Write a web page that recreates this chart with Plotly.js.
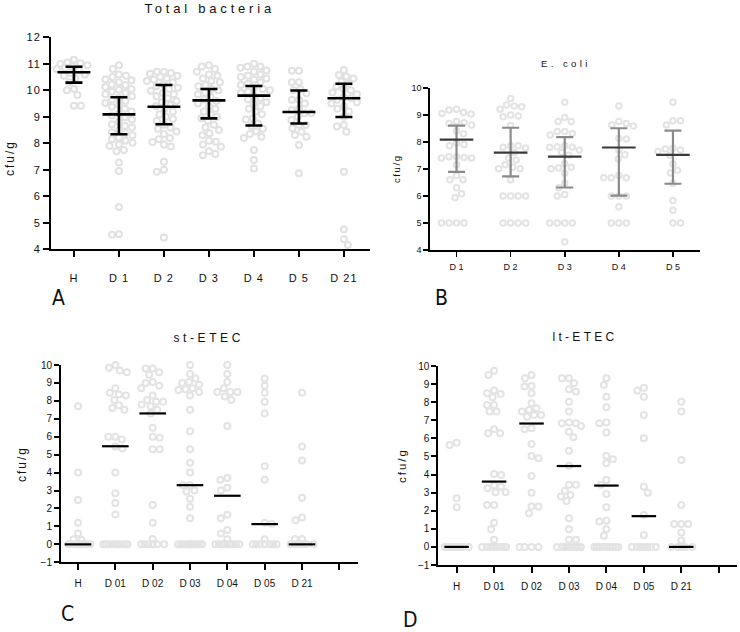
<!DOCTYPE html>
<html>
<head>
<meta charset="utf-8">
<script src="https://cdn.plot.ly/plotly-3.0.1.min.js"></script>
<style>html,body{margin:0;padding:0;background:#fff;}#chart{width:740px;height:632px;}</style>
</head>
<body>
<div id="chart"></div>
<script>
// ---------- Panel A: Total bacteria ----------
const catsA = ['H','D 1','D 2','D 3','D 4','D 5','D 21'];
const totH  = [11.15,11.05,11.02,11.0,10.95,10.9,10.85,10.8,10.75,10.65,10.6,10.55,10.45,10.3,10.05,10.0,9.82,9.42,9.42];
const totD1 = [10.95,10.8,10.6,10.55,10.5,10.42,10.38,10.3,10.22,10.2,10.12,10.05,10.02,9.95,9.9,9.85,9.78,9.72,9.65,9.6,9.52,9.45,9.38,9.3,9.2,9.12,9.05,8.98,8.9,8.8,8.72,8.65,8.6,8.5,8.42,8.38,8.3,8.22,8.15,8.1,8.02,7.95,7.9,7.75,7.7,7.28,6.95,5.6,4.55,4.57];
const totD2 = [10.7,10.7,10.65,10.62,10.55,10.5,10.45,10.4,10.35,10.3,10.22,10.15,10.1,10.05,9.98,9.9,9.85,9.78,9.7,9.6,9.55,9.45,9.4,9.3,9.2,9.1,9.0,8.92,8.85,8.7,8.6,8.55,8.45,8.35,8.2,8.15,8.05,7.95,7.88,7.3,7.0,6.93,4.45];
const totD3 = [10.95,10.9,10.8,10.7,10.6,10.55,10.45,10.35,10.3,10.2,10.15,10.05,10.0,9.92,9.85,9.75,9.65,9.6,9.5,9.4,9.3,9.2,9.1,9.0,8.95,8.85,8.7,8.6,8.5,8.38,8.3,8.1,8.06,7.95,7.87,7.7,7.6,7.55];
const totD4 = [11.0,10.9,10.9,10.85,10.75,10.7,10.6,10.55,10.5,10.45,10.4,10.3,10.25,10.2,10.1,10.05,10.0,9.95,9.9,9.8,9.7,9.65,9.55,9.5,9.4,9.3,9.2,9.1,8.95,8.9,8.75,8.65,8.55,8.45,8.35,8.25,8.2,7.75,7.37,7.05];
const totD5 = [10.74,10.74,10.3,10.3,10.04,10.0,9.89,9.64,9.64,9.5,9.3,9.26,9.13,9.13,9.0,8.88,8.69,8.69,8.57,8.44,8.31,8.25,7.94,6.87];
const totD21= [10.77,10.58,10.52,10.45,10.33,10.25,10.14,10.05,10.0,9.92,9.85,9.75,9.7,9.64,9.55,9.5,9.4,9.3,9.2,9.0,8.69,8.63,8.44,6.93,4.75,4.38,4.16];
const meanA = [10.68,9.09,9.38,9.62,9.80,9.18,9.70];
const sdHiA = [10.89,9.74,10.20,10.05,10.16,9.99,10.25];
const sdLoA = [10.29,8.34,8.72,8.94,8.67,8.75,8.99];

// ---------- Panel B: E. coli ----------
const catsB = ['D 1','D 2','D 3','D 4','D 5'];
const ecD1 = [9.2,9.18,9.08,9.05,9.03,8.75,8.7,8.68,8.62,8.4,8.3,7.95,7.9,7.85,7.45,7.45,7.42,7.4,7.4,7.15,6.75,6.6,6.6,6.3,6.08,5.93,5.0,5.0,5.0,5.0];
const ecD2 = [9.6,9.36,9.32,9.3,9.2,8.99,8.95,8.93,8.6,7.85,7.85,7.8,7.77,7.6,7.4,7.33,7.15,7.06,7.0,7.0,6.6,6.0,6.0,6.0,6.0,5.0,5.0,5.0,5.0];
const ecD3 = [9.46,8.9,8.75,8.75,8.38,8.38,8.31,8.25,7.85,7.82,7.8,7.8,7.7,7.6,7.5,7.2,7.06,7.03,7.0,6.84,6.47,6.3,6.05,6.0,5.0,5.0,5.0,5.0,4.3];
const ecD4 = [9.32,8.75,8.68,8.62,8.58,8.13,8.1,7.7,7.52,7.36,6.75,6.67,6.67,6.67,6.0,6.0,6.0,5.6,5.0,5.0,5.0];
const ecD5 = [9.46,8.78,8.78,8.62,7.76,7.73,7.7,7.64,7.5,7.18,6.95,6.85,6.47,5.83,5.47,5.0,5.0];
const meanB = [8.08,7.60,7.45,7.79,7.52];
const sdHiB = [8.60,8.52,8.17,8.50,8.41];
const sdLoB = [6.89,6.72,6.31,6.01,6.45];

// ---------- Panel C: st-ETEC ----------
const catsC = ['H','D 01','D 02','D 03','D 04','D 05','D 21',''];
const stH  = [7.7,4.0,2.47,1.2,0.6,0.28,0.25,0,0,0,0,0,0,0];
const stD1 = [10.0,9.85,9.7,9.6,8.7,8.45,8.35,8.3,8.05,7.75,7.6,7.5,6.0,6.0,5.85,5.45,5.35,4.0,2.85,2.3,1.67,0,0,0,0,0,0,0,0,0,0];
const stD2 = [9.8,9.8,9.6,9.45,9.05,9.0,8.85,8.7,8.3,8.05,7.95,7.95,7.8,7.7,7.5,7.3,6.5,6.0,5.95,5.3,5.3,2.2,1.2,0.3,0,0,0,0,0,0];
const stD3 = [10.0,9.5,9.25,9.05,9.0,8.9,8.7,8.65,8.6,8.5,8.3,7.5,6.3,5.3,4.55,4.0,3.3,3.3,3.0,2.95,2.55,2.1,1.45,0,0,0,0,0,0,0,0,0,0,0,0];
const stD4 = [10.0,9.5,9.05,8.7,8.5,8.5,8.5,8.25,8.05,6.6,3.7,3.6,3.15,3.0,1.65,1.45,0.8,0.6,0.28,0,0,0,0,0,0,0,0,0];
const stD5 = [9.25,8.85,8.45,7.95,7.3,4.35,3.6,1.2,1.15,0.28,0,0,0,0,0,0,0];
const stD21= [8.45,5.45,4.67,2.6,1.5,1.35,0.3,0.3,0,0,0,0,0,0];
const medC = [0,5.47,7.3,3.3,2.71,1.13,0];

// ---------- Panel D: lt-ETEC ----------
const ltH  = [5.76,5.64,2.69,2.19,0,0,0,0,0,0,0,0];
const ltD1 = [9.74,9.5,8.64,8.5,8.45,8.27,7.85,7.85,7.48,7.48,6.5,6.28,6.28,4.03,3.98,3.4,3.33,3.24,3.02,3.02,2.32,2.32,1.34,0.98,0.39,0,0,0,0,0,0,0,0];
const ltD2 = [9.5,9.32,8.9,8.86,8.49,7.94,7.66,7.57,7.48,7.29,7.29,7.2,6.56,6.5,5.69,5.03,4.9,3.92,3.0,2.23,2.23,1.86,0,0,0,0];
const ltD3 = [9.32,9.32,9.04,8.71,8.58,8.03,7.48,6.87,6.83,6.83,6.69,6.37,6.06,5.32,4.49,3.43,3.43,3.11,2.87,2.78,2.54,1.58,0.98,0.39,0.39,0,0,0,0,0,0,0,0];
const ltD4 = [9.32,8.95,8.3,7.72,6.87,6.83,6.32,5.03,4.84,4.62,3.7,3.43,2.93,2.19,1.45,1.4,0.98,0.61,0,0,0,0,0,0,0,0,0];
const ltD5 = [8.8,8.64,8.3,7.29,6.0,3.33,3.0,1.77,0.66,0,0,0,0,0,0,0];
const ltD21= [8.03,7.48,4.81,2.32,1.27,1.27,1.27,0.79,0.35,0,0,0,0,0];
const medD = [0,3.61,6.82,4.47,3.39,1.7,0];

// ---------- helpers ----------
const W = 740, H = 632;
function xd(a,b){return [a/W,b/W];}
function yd(top,bottom){return [1-bottom/H,1-top/H];}

// deterministic beeswarm layout (pixel space), returns offsets in category units
function swarm(vals, pxX, pxY, d, maxW){
  const idx = vals.map((v,i)=>i).sort((a,b)=>vals[b]-vals[a] || a-b);
  const placed = [];
  const off = new Array(vals.length).fill(0);
  idx.forEach((i,n)=>{
    const y = vals[i]*pxY;
    let best = 0, bestScore = -1, found = false;
    const sgn = (n%2===0)?1:-1;
    for(let k=0;k<=maxW*2 && !found;k++){
      const cands = k===0?[0]:[sgn*k*0.5,-sgn*k*0.5];
      for(const c of cands){
        let md = Infinity;
        for(const p of placed){
          const dd = Math.hypot(c-p[0], y-p[1]);
          if(dd<md) md=dd;
        }
        if(md>=d){best=c;found=true;break;}
        if(md>bestScore+1e-9){bestScore=md;best=c;}
      }
    }
    placed.push([best,y]);
    off[i]=best/pxX;
  });
  return off;
}
function pointsTrace(groups, pxX, pxY, d, maxW, xa, ya, color, size){
  const xs=[], ys=[];
  groups.forEach((g,gi)=>{
    const o = swarm(g,pxX,pxY,d,maxW);
    g.forEach((v,j)=>{xs.push(gi+o[j]); ys.push(v);});
  });
  return {type:'scatter',mode:'markers',x:xs,y:ys,xaxis:xa,yaxis:ya,hoverinfo:'skip',cliponaxis:false,
    marker:{symbol:'circle-open',size:size,color:color,line:{width:2,color:color}}};
}
const idxA = catsA.map((c,i)=>i), idxB = catsB.map((c,i)=>i), idxC = medC.map((c,i)=>i);

const traces = [
  pointsTrace([totH,totD1,totD2,totD3,totD4,totD5,totD21],45.0,26.5,7,17,'x','y','#e1e1e1',6),
  {type:'scatter',mode:'markers',x:idxA,y:meanA,xaxis:'x',yaxis:'y',hoverinfo:'skip',cliponaxis:false,
   marker:{symbol:'line-ew',size:23.5,line:{width:2.6,color:'#000'}},
   error_y:{type:'data',symmetric:false,array:sdHiA.map((v,i)=>v-meanA[i]),arrayminus:meanA.map((v,i)=>v-sdLoA[i]),color:'#000',thickness:2.6,width:8.5}},
  pointsTrace([ecD1,ecD2,ecD3,ecD4,ecD5],54,27.05,7.5,16,'x2','y2','#e3e3e3',5.5),
  {type:'scatter',mode:'markers',x:idxB,y:meanB,xaxis:'x2',yaxis:'y2',hoverinfo:'skip',cliponaxis:false,
   marker:{symbol:'line-ew',size:24,line:{width:2.2,color:'#3a3a3a'}},
   error_y:{type:'data',symmetric:false,array:sdHiB.map((v,i)=>v-meanB[i]),arrayminus:meanB.map((v,i)=>v-sdLoB[i]),color:'#8a8a8a',thickness:2.2,width:8.5}},
  pointsTrace([stH,stD1,stD2,stD3,stD4,stD5,stD21],37.3,17.94,7,12,'x3','y3','#e3e3e3',6),
  {type:'scatter',mode:'markers',x:idxC,y:medC,xaxis:'x3',yaxis:'y3',hoverinfo:'skip',cliponaxis:false,
   marker:{symbol:'line-ew',size:19,line:{width:2.2,color:'#000'}}},
  pointsTrace([ltH,ltD1,ltD2,ltD3,ltD4,ltD5,ltD21],37.4,18.09,7,12,'x4','y4','#e3e3e3',6),
  {type:'scatter',mode:'markers',x:idxC,y:medD,xaxis:'x4',yaxis:'y4',hoverinfo:'skip',cliponaxis:false,
   marker:{symbol:'line-ew',size:17.5,line:{width:2.2,color:'#000'}}}
];

const FONT = 'Liberation Sans, Arial, sans-serif';
function axisBase(extra){
  return Object.assign({showline:true,linecolor:'#000',linewidth:2,ticks:'outside',tickcolor:'#000',tickwidth:2,ticklen:6,
    showgrid:false,zeroline:false,fixedrange:true,tickfont:{family:FONT,size:11,color:'#111'}},extra);
}
const layout = {
  width:W,height:H,margin:{l:0,r:0,t:0,b:0},paper_bgcolor:'#fff',plot_bgcolor:'rgba(0,0,0,0)',showlegend:false,
  font:{family:FONT,color:'#111'},
  xaxis: axisBase({domain:xd(51,370),range:[-0.51,6.58],anchor:'y',tickmode:'array',tickvals:idxA,ticktext:catsA,ticklabelstandoff:11}),
  yaxis: axisBase({domain:yd(37.3,249.3),range:[4,12],anchor:'x',tickmode:'linear',tick0:4,dtick:1}),
  xaxis2: axisBase({domain:xd(430,700),range:[-0.49,4.5],anchor:'y2',tickmode:'array',tickvals:idxB,ticktext:catsB,
    linewidth:1.6,tickwidth:1.6,ticklen:5,tickfont:{family:FONT,size:9,color:'#111'},ticklabelstandoff:3}),
  yaxis2: axisBase({domain:yd(87.7,250),range:[4,10],anchor:'x2',tickmode:'linear',tick0:4,dtick:1,
    linewidth:1.6,tickwidth:1.6,ticklen:5,tickfont:{family:FONT,size:9,color:'#111'}}),
  xaxis3: axisBase({domain:xd(61,358),range:[-0.456,7.5],anchor:'y3',tickmode:'array',tickvals:idxC.concat([7]),ticktext:catsC,
    tickfont:{family:FONT,size:10,color:'#111'},ticklabelstandoff:5}),
  yaxis3: axisBase({domain:yd(365,562.3),range:[-1,10],anchor:'x3',tickmode:'linear',tick0:-1,dtick:1,ticklen:5,
    tickfont:{family:FONT,size:10,color:'#111'}}),
  xaxis4: axisBase({domain:xd(438.3,736.7),range:[-0.49,7.48],anchor:'y4',tickmode:'array',tickvals:idxC.concat([7]),ticktext:catsC,
    tickfont:{family:FONT,size:10,color:'#111'},ticklabelstandoff:5}),
  yaxis4: axisBase({domain:yd(366,565),range:[-1,10],anchor:'x4',tickmode:'linear',tick0:-1,dtick:1,ticklen:5,
    tickfont:{family:FONT,size:10,color:'#111'}}),
  annotations:[]
};
function ann(text,px,py,size,opts){
  return Object.assign({text:text,x:px/W,y:1-py/H,xref:'paper',yref:'paper',xanchor:'center',yanchor:'middle',
    showarrow:false,font:{family:FONT,size:size,color:'#111'}},opts||{});
}
const spacing = [];
function addAnn(a,sp){layout.annotations.push(a);spacing.push(sp);}
addAnn(ann('Total bacteria',210,9,13),3.8);
addAnn(ann('E. coli',566,64,9.5),3.4);
addAnn(ann('st-ETEC',209,338,12),3.6);
addAnn(ann('lt-ETEC',585,337,12),3.3);
addAnn(ann('cfu/g',10,158,12,{textangle:-90}),2);
addAnn(ann('cfu/g',396,169,9.5,{textangle:-90}),1.6);
addAnn(ann('cfu/g',22,464,12,{textangle:-90}),2);
addAnn(ann('cfu/g',402,466,11.5,{textangle:-90}),2);
const LF = 'Liberation Sans Narrow, DejaVu Sans Condensed, Arial Narrow, sans-serif';
addAnn(ann('A',58,298,21,{font:{family:LF,size:21,color:'#111'}}),0);
addAnn(ann('B',441,298,21,{font:{family:LF,size:21,color:'#111'}}),0);
addAnn(ann('C',67,614,21,{font:{family:LF,size:21,color:'#111'}}),0);
addAnn(ann('D',410,620,21,{font:{family:LF,size:21,color:'#111'}}),0);

Plotly.newPlot('chart',traces,layout,{staticPlot:true,displayModeBar:false}).then(gd=>{
  gd.querySelectorAll('.annotation').forEach(g=>{
    const i = +g.getAttribute('data-index');
    const t = g.querySelector('text');
    if(t && spacing[i]) t.style.letterSpacing = spacing[i]+'px';
  });
  gd.querySelectorAll('.xtick text, .ytick text').forEach(t=>{t.style.letterSpacing='1px';});
});
</script>
</body>
</html>
